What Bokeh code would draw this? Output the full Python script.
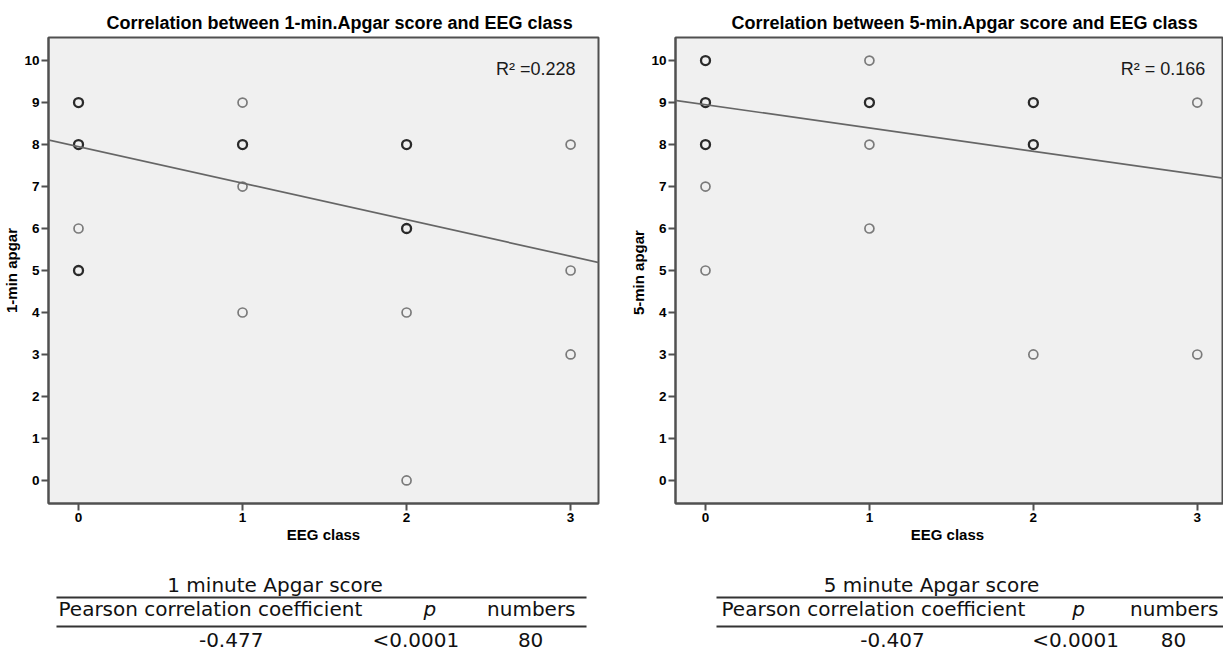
from bokeh.plotting import figure
from bokeh.layouts import column, row
from bokeh.models import Range1d, Slope, Label, FixedTicker, ColumnDataSource
from bokeh.core.properties import value
from bokeh.embed import file_html
from bokeh.resources import INLINE

# ---------------- data ----------------
eeg_1min = [0, 0, 0, 0, 1, 1, 1, 1, 2, 2, 2, 2, 3, 3, 3]
apgar_1min = [9, 8, 6, 5, 9, 8, 7, 4, 8, 6, 4, 0, 8, 5, 3]
overlap_1min = [1, 1, 0, 1, 0, 1, 0, 0, 1, 1, 0, 0, 0, 0, 0]   # several cases on one spot

eeg_5min = [0, 0, 0, 0, 0, 1, 1, 1, 1, 2, 2, 2, 3, 3]
apgar_5min = [10, 9, 8, 7, 5, 10, 9, 8, 6, 9, 8, 3, 9, 3]
overlap_5min = [1, 1, 1, 0, 0, 0, 1, 0, 0, 1, 1, 0, 0, 0]

fit_1min = {"slope": -0.87, "intercept": 7.95, "r2": "0.228"}
fit_5min = {"slope": -0.555, "intercept": 8.95, "r2": "0.166"}

x_ticks = [0, 1, 2, 3]
y_ticks = list(range(0, 11))

table_header = ["Pearson correlation coefficient", "p", "numbers"]
table_1min = {"title": "1 minute Apgar score", "r": "-0.477", "p": "<0.0001", "n": "80"}
table_5min = {"title": "5 minute Apgar score", "r": "-0.407", "p": "<0.0001", "n": "80"}

FONT = "Liberation Sans"
TFONT = "DejaVu Sans"
FRAME = "#505050"
PLOT_H = 556
TABLE_H = 98


def make_scatter(eeg, apgar, overlap, fit, title, xlabel, ylabel, r2_text,
                 width, b_left, b_right, x_end, r2_x, title_offset):
    p = figure(width=width, height=PLOT_H, output_backend="svg", toolbar_location=None,
               x_range=Range1d(-0.183, x_end), y_range=Range1d(-0.55, 10.55),
               min_border_left=b_left, min_border_right=b_right,
               min_border_top=37, min_border_bottom=PLOT_H - 503)
    p.background_fill_color = "#f0f0f0"
    p.border_fill_color = "white"
    p.outline_line_color = FRAME
    p.outline_line_width = 2
    p.grid.visible = False

    p.title.text = title
    p.title.align = "left"
    p.title.offset = title_offset
    p.title.text_font = FONT
    p.title.text_font_size = "18px"
    p.title.text_font_style = "bold"
    p.title.text_color = "black"
    p.title.standoff = 9

    p.xaxis.ticker = FixedTicker(ticks=x_ticks)
    p.yaxis.ticker = FixedTicker(ticks=y_ticks)
    for ax in (p.xaxis, p.yaxis):
        ax.axis_line_color = FRAME
        ax.axis_line_width = 2
        ax.major_tick_line_color = FRAME
        ax.major_tick_line_width = 2
        ax.major_tick_in = 0
        ax.major_tick_out = 7
        ax.minor_tick_line_color = None
        ax.major_label_text_font = FONT
        ax.major_label_text_font_size = "13.5px"
        ax.major_label_text_font_style = "bold"
        ax.major_label_text_color = "black"
        ax.major_label_standoff = 2
        ax.axis_label_text_font = FONT
        ax.axis_label_text_font_size = "15px"
        ax.axis_label_text_font_style = "bold"
        ax.axis_label_text_color = "black"
        ax.axis_label_standoff = 1
    p.xaxis.axis_label = xlabel
    p.yaxis.axis_label = ylabel

    src = ColumnDataSource(dict(
        x=eeg, y=apgar,
        color=["#2a2a2a" if o else "#7a7a7a" for o in overlap],
        lw=[2.3 if o else 1.7 for o in overlap],
    ))
    p.scatter("x", "y", source=src, marker="circle", size=9,
              fill_color=None, line_color="color", line_width="lw")

    p.add_layout(Slope(gradient=fit["slope"], y_intercept=fit["intercept"],
                       line_color="#666666", line_width=1.7))

    p.add_layout(Label(x=r2_x, y=9.8, text=r2_text, text_align="right",
                       text_baseline="alphabetic", text_font=FONT,
                       text_font_size="18px", text_color="#1a1a1a"))
    return p


def make_table(width, b_left, b_right, frame_x, tab, pos):
    # x in page pixels: the table frame is aligned with the plot frame above it
    t = figure(width=width, height=TABLE_H, output_backend="svg", toolbar_location=None,
               x_range=Range1d(*frame_x), y_range=Range1d(TABLE_H, 0),
               x_axis_location=None, y_axis_location=None,
               min_border_left=b_left, min_border_right=b_right,
               min_border_top=0, min_border_bottom=0)
    t.grid.visible = False
    t.outline_line_color = None
    t.background_fill_color = "white"
    t.border_fill_color = "white"

    common = dict(text_font=value(TFONT), text_font_size="20px",
                  text_color="#111111", text_baseline="alphabetic")
    t.text(x=[pos["title"]], y=[28], text=[tab["title"]], text_align="center", **common)
    t.text(x=[pos["pearson"]], y=[52], text=[table_header[0]], text_align="left", **common)
    t.text(x=[pos["p"]], y=[52], text=[table_header[1]], text_align="center",
           text_font_style="italic", **common)
    t.text(x=[pos["numbers"]], y=[52], text=[table_header[2]], text_align="right", **common)
    t.text(x=[pos["r"], pos["pv"], pos["n"]], y=[83, 83, 83],
           text=[tab["r"], tab["p"], tab["n"]], text_align="center", **common)
    t.segment(x0=[pos["l0"], pos["l0"]], y0=[41, 70], x1=[pos["l1"], pos["l1"]], y1=[41, 70],
              line_color="#333333", line_width=2)
    return t


left_plot = make_scatter(eeg_1min, apgar_1min, overlap_1min, fit_1min,
                         "Correlation between 1-min.Apgar score and EEG class",
                         "EEG class", "1-min apgar", "R² =" + fit_1min["r2"],
                         620, 47, 22, 3.17, 3.03, 58)
right_plot = make_scatter(eeg_5min, apgar_5min, overlap_5min, fit_5min,
                          "Correlation between 5-min.Apgar score and EEG class",
                          "EEG  class", "5-min  apgar", "R² =  " + fit_5min["r2"],
                          603, 55, 0, 3.16, 3.08, 56)

left_table = make_table(620, 47, 22, (47, 598), table_1min,
                        dict(title=274, pearson=57, p=429, numbers=575,
                             r=230, pv=415, n=530, l0=55, l1=586))
right_table = make_table(603, 55, 0, (675, 1223), table_5min,
                         dict(title=931, pearson=721, p=1078, numbers=1218,
                              r=892, pv=1075, n=1173, l0=716, l1=1223))

layout = row(column(left_plot, left_table), column(right_plot, right_table))

open("out.html", "w").write(file_html(layout, INLINE))
